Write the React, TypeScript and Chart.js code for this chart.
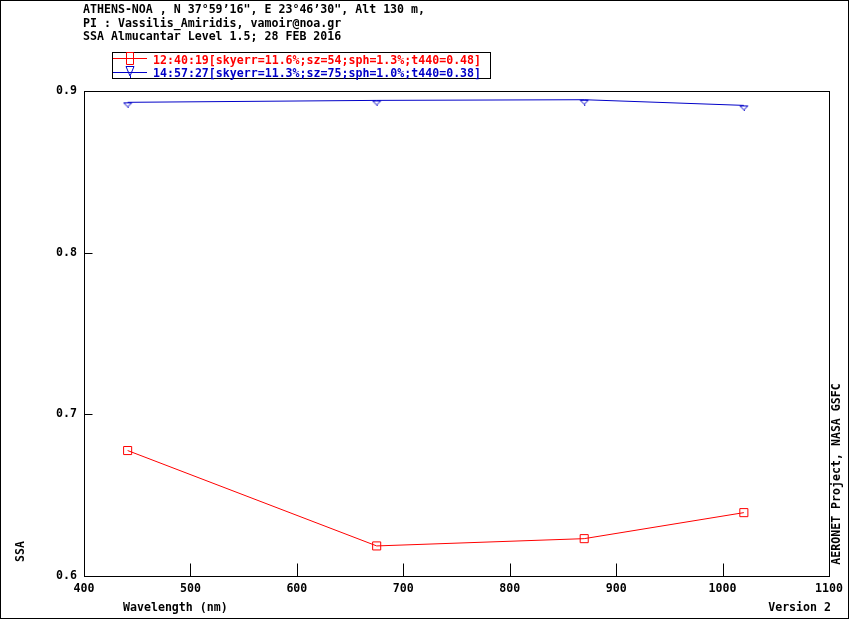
import React, { useEffect, useRef } from "react";
import { Chart, registerables } from "chart.js";

Chart.register(...registerables);

// ---- data ----
const wavelengths = [441, 675, 870, 1020];
const ssaFirst = [0.6776, 0.6186, 0.6231, 0.6392];
const ssaSecond = [0.893, 0.8942, 0.8946, 0.8911];
const seriesLabels = [
  "12:40:19[skyerr=11.6%;sz=54;sph=1.3%;t440=0.48]",
  "14:57:27[skyerr=11.3%;sz=75;sph=1.0%;t440=0.38]",
];
const seriesColors = ["#ff0000", "#0000c8"];
const headerLines = [
  "ATHENS-NOA , N 37°59’16\", E 23°46’30\", Alt 130 m,",
  "PI : Vassilis_Amiridis, vamoir@noa.gr",
  "SSA Almucantar Level 1.5; 28 FEB 2016",
];
const xRange = [400, 1100];
const yRange = [0.6, 0.9];
const xStep = 100;
const yStep = 0.1;
const xTitle = "Wavelength (nm)";
const yTitle = "SSA";
const versionText = "Version 2";
const creditText = "AERONET Project, NASA GSFC";

const FAMILY = "'DejaVu Sans Mono', 'Liberation Mono', monospace";
const FONT = `bold 11.6px ${FAMILY}`;

function makeTriangle(color: string): HTMLCanvasElement {
  const c = document.createElement("canvas");
  c.width = 10;
  c.height = 12;
  const g = c.getContext("2d")!;
  g.strokeStyle = color;
  g.lineWidth = 1;
  g.beginPath();
  g.moveTo(1, 6.5);
  g.lineTo(9, 6.5);
  g.lineTo(5, 10.5);
  g.closePath();
  g.moveTo(5.5, 10.5);
  g.lineTo(5.5, 12);
  g.stroke();
  return c;
}

const decorPlugin = {
  id: "decor",
  afterDraw(chart: any) {
    const { ctx, chartArea: a, scales } = chart;
    ctx.save();
    ctx.strokeStyle = "#000";
    ctx.lineWidth = 1;
    // outer frame
    ctx.strokeRect(0.5, 0.5, 848, 618);
    // plot frame
    const L = Math.round(a.left) + 0.5;
    const R = Math.round(a.right) + 0.5;
    const T = Math.round(a.top) + 0.5;
    const B = Math.round(a.bottom) + 0.5;
    ctx.strokeRect(L, T, R - L, B - T);
    // inner tick marks
    ctx.beginPath();
    for (const t of scales.x.ticks) {
      if (t.value <= xRange[0] || t.value >= xRange[1]) continue;
      const px = Math.round(scales.x.getPixelForValue(t.value)) + 0.5;
      ctx.moveTo(px, B);
      ctx.lineTo(px, B - 13);
    }
    for (const t of scales.y.ticks) {
      if (t.value <= yRange[0] + 1e-9 || t.value >= yRange[1] - 1e-9) continue;
      const py = Math.round(scales.y.getPixelForValue(t.value)) + 0.5;
      ctx.moveTo(L, py);
      ctx.lineTo(L + 8, py);
    }
    ctx.stroke();

    ctx.font = FONT;
    ctx.textBaseline = "alphabetic";
    // header
    ctx.fillStyle = "#000";
    ctx.textAlign = "left";
    const hb = [13, 27, 40];
    headerLines.forEach((s, i) => ctx.fillText(s, 83, hb[i]));

    // legend box
    ctx.strokeRect(112.5, 52.5, 378, 26);
    const rows = [
      { lineY: 58, base: 63.5 },
      { lineY: 72, base: 76.5 },
    ];
    chart.data.datasets.forEach((ds: any, i: number) => {
      const r = rows[i];
      ctx.strokeStyle = ds.borderColor;
      ctx.fillStyle = ds.borderColor;
      ctx.beginPath();
      ctx.moveTo(113, r.lineY + 0.5);
      ctx.lineTo(147, r.lineY + 0.5);
      ctx.stroke();
      ctx.beginPath();
      if (i === 0) {
        ctx.rect(126.5, 52.5, 7, 12);
      } else {
        ctx.moveTo(126, 66.5);
        ctx.lineTo(134, 66.5);
        ctx.lineTo(130, 76);
        ctx.closePath();
        ctx.moveTo(130.5, 76);
        ctx.lineTo(130.5, 78);
      }
      ctx.stroke();
      ctx.fillText(ds.label, 153, r.base);
    });

    // axis titles
    ctx.fillStyle = "#000";
    ctx.textAlign = "left";
    ctx.fillText(xTitle, 123, 611);
    ctx.textAlign = "right";
    ctx.fillText(versionText, 831, 611);

    ctx.save();
    ctx.translate(24, 551.5);
    ctx.rotate(-Math.PI / 2);
    ctx.textAlign = "center";
    ctx.fillText(yTitle, 0, 0);
    ctx.restore();

    ctx.save();
    ctx.translate(840, 474);
    ctx.rotate(-Math.PI / 2);
    ctx.textAlign = "center";
    ctx.fillText(creditText, 0, 0);
    ctx.restore();

    ctx.restore();
  },
};

export default function App() {
  const ref = useRef<HTMLCanvasElement | null>(null);

  useEffect(() => {
    if (!ref.current) return;
    const tri = makeTriangle(seriesColors[1]);
    const tickFont = { family: FAMILY, size: 11.6, weight: "bold" as const };
    const chart = new Chart(ref.current, {
      type: "line",
      data: {
        datasets: [
          {
            label: seriesLabels[0],
            data: wavelengths.map((x, i) => ({ x, y: ssaFirst[i] })),
            borderColor: seriesColors[0],
            backgroundColor: "rgba(0,0,0,0)",
            borderWidth: 1,
            pointStyle: "rect",
            pointRadius: 5.7,
            pointBorderWidth: 1,
            pointBackgroundColor: "rgba(0,0,0,0)",
            tension: 0,
          },
          {
            label: seriesLabels[1],
            data: wavelengths.map((x, i) => ({ x, y: ssaSecond[i] })),
            borderColor: seriesColors[1],
            backgroundColor: "rgba(0,0,0,0)",
            borderWidth: 1,
            pointStyle: tri as any,
            pointRadius: 5,
            tension: 0,
          },
        ],
      },
      options: {
        animation: false,
        responsive: false,
        devicePixelRatio: 1,
        layout: { padding: { left: 0, top: 91, right: 21, bottom: 0 } },
        plugins: {
          legend: { display: false },
          title: { display: false },
          tooltip: { enabled: false },
        },
        events: [],
        scales: {
          x: {
            type: "linear",
            min: xRange[0],
            max: xRange[1],
            grid: { display: false, drawTicks: false },
            border: { display: false },
            ticks: {
              stepSize: xStep,
              color: "#000",
              font: tickFont,
              padding: 6,
              maxRotation: 0,
              autoSkip: false,
              callback: (v: any) => String(v),
            },
            afterFit: (s: any) => {
              s.height = 44;
            },
          },
          y: {
            type: "linear",
            min: yRange[0],
            max: yRange[1],
            grid: { display: false, drawTicks: false },
            border: { display: false },
            ticks: {
              stepSize: yStep,
              color: "#000",
              font: tickFont,
              padding: 7,
              callback: (v: any) => Number(v).toFixed(1),
            },
            afterFit: (s: any) => {
              s.width = 84;
            },
          },
        },
      },
      plugins: [decorPlugin],
    });
    return () => chart.destroy();
  }, []);

  return (
    <div style={{ position: "absolute", left: 0, top: 0, width: 850, height: 620, background: "#fff" }}>
      <canvas ref={ref} width={850} height={620} style={{ display: "block" }} />
    </div>
  );
}
